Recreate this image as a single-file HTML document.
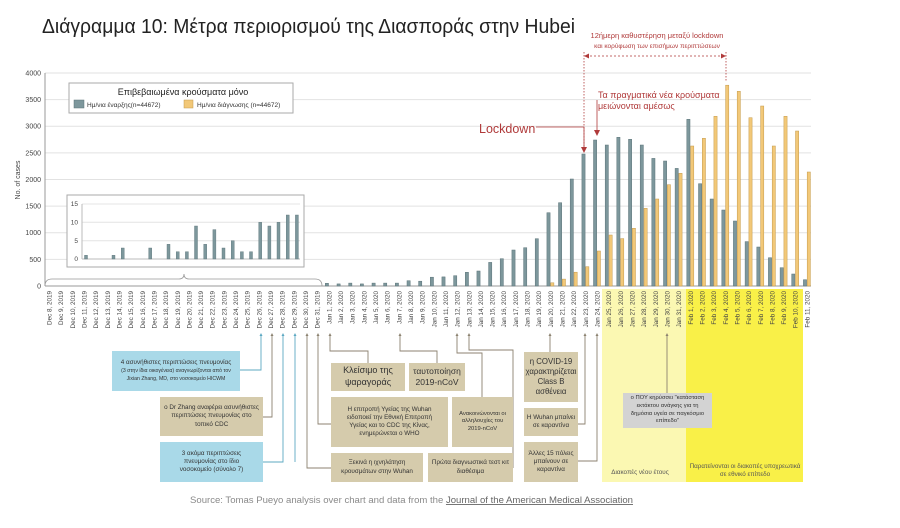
<!DOCTYPE html>
<html><head><meta charset="utf-8"><style>
html,body{margin:0;padding:0;background:#fff;}
#w{position:relative;width:900px;height:528px;overflow:hidden;font-family:"Liberation Sans","DejaVu Sans",sans-serif;}
.b{position:absolute;display:flex;align-items:center;justify-content:center;text-align:center;color:#333;font-size:6.3px;line-height:1.3;box-sizing:border-box;padding:2px;}
.t{background:#d5cbac;}
.c{background:#a9d9e8;}
svg text{font-family:"Liberation Sans","DejaVu Sans",sans-serif;}
</style></head><body><div id="w">
<svg width="900" height="528" style="position:absolute;left:0;top:0">
<rect x="602" y="289" width="84" height="193" fill="#fbf8b2"/>
<rect x="686" y="289" width="117" height="193" fill="#f9f048"/>
<text x="42" y="33" font-size="20" fill="#222" textLength="533" lengthAdjust="spacingAndGlyphs">Διάγραμμα 10: Μέτρα περιορισμού της Διασποράς στην Hubei</text>
<g stroke="#e2e2e2" stroke-width="1">
<line x1="45" x2="811" y1="259.4" y2="259.4"/><line x1="45" x2="811" y1="232.75" y2="232.75"/><line x1="45" x2="811" y1="206.1" y2="206.1"/><line x1="45" x2="811" y1="179.5" y2="179.5"/><line x1="45" x2="811" y1="152.9" y2="152.9"/><line x1="45" x2="811" y1="126.25" y2="126.25"/><line x1="45" x2="811" y1="99.6" y2="99.6"/><line x1="45" x2="811" y1="73" y2="73"/>
</g>
<line x1="45" x2="811" y1="286" y2="286" stroke="#999"/>
<line x1="45" x2="45" y1="73" y2="286" stroke="#999"/>
<g font-size="7" fill="#444" text-anchor="end">
<text x="41" y="288.5">0</text><text x="41" y="261.9">500</text><text x="41" y="235.2">1000</text><text x="41" y="208.6">1500</text><text x="41" y="182">2000</text><text x="41" y="155.4">2500</text><text x="41" y="128.7">3000</text><text x="41" y="102.1">3500</text><text x="41" y="75.5">4000</text>
</g>
<text transform="translate(20,180) rotate(-90)" font-size="7" fill="#444" text-anchor="middle">No. of cases</text>
<g fill="#7d979c" stroke="#5b7379" stroke-width="0.5">
<rect x="325.3" y="283.3" width="3.2" height="2.7"/><rect x="337" y="283.9" width="3.2" height="2.1"/><rect x="348.7" y="283.1" width="3.2" height="2.9"/><rect x="360.3" y="283.9" width="3.2" height="2.1"/><rect x="372" y="283.1" width="3.2" height="2.9"/><rect x="383.6" y="283.1" width="3.2" height="2.9"/><rect x="395.3" y="283.1" width="3.2" height="2.9"/><rect x="407" y="280.7" width="3.2" height="5.3"/><rect x="418.6" y="281.2" width="3.2" height="4.8"/><rect x="430.3" y="277.2" width="3.2" height="8.8"/><rect x="441.9" y="276.9" width="3.2" height="9.1"/><rect x="453.6" y="275.7" width="3.2" height="10.3"/><rect x="465.3" y="272.3" width="3.2" height="13.7"/><rect x="476.9" y="271" width="3.2" height="15"/><rect x="488.6" y="262.4" width="3.2" height="23.6"/><rect x="500.2" y="258.7" width="3.2" height="27.3"/><rect x="511.9" y="250" width="3.2" height="36"/><rect x="523.6" y="247.7" width="3.2" height="38.3"/><rect x="535.2" y="238.7" width="3.2" height="47.3"/><rect x="546.9" y="212.7" width="3.2" height="73.3"/><rect x="558.5" y="202.7" width="3.2" height="83.3"/><rect x="570.2" y="179" width="3.2" height="107"/><rect x="581.9" y="154" width="3.2" height="132"/><rect x="593.5" y="140" width="3.2" height="146"/><rect x="605.2" y="145" width="3.2" height="141"/><rect x="616.8" y="137.3" width="3.2" height="148.7"/><rect x="628.5" y="139.3" width="3.2" height="146.7"/><rect x="640.2" y="145" width="3.2" height="141"/><rect x="651.8" y="158.4" width="3.2" height="127.6"/><rect x="663.5" y="161" width="3.2" height="125"/><rect x="675.1" y="168.4" width="3.2" height="117.6"/><rect x="686.8" y="119.3" width="3.2" height="166.7"/><rect x="698.5" y="183.7" width="3.2" height="102.3"/><rect x="710.1" y="199" width="3.2" height="87"/><rect x="721.8" y="210" width="3.2" height="76"/><rect x="733.4" y="221" width="3.2" height="65"/><rect x="745.1" y="241.6" width="3.2" height="44.4"/><rect x="756.8" y="247" width="3.2" height="39"/><rect x="768.4" y="257.7" width="3.2" height="28.3"/><rect x="780.1" y="267.7" width="3.2" height="18.3"/><rect x="791.7" y="274" width="3.2" height="12"/><rect x="803.4" y="279.7" width="3.2" height="6.3"/>
</g>
<g fill="#f2c878" stroke="#c49a4c" stroke-width="0.5">
<rect x="550.7" y="282.8" width="3.2" height="3.2"/><rect x="562.3" y="279.1" width="3.2" height="6.9"/><rect x="574" y="272.2" width="3.2" height="13.8"/><rect x="585.7" y="266.7" width="3.2" height="19.3"/><rect x="597.3" y="251" width="3.2" height="35"/><rect x="609" y="235" width="3.2" height="51"/><rect x="620.6" y="238.6" width="3.2" height="47.4"/><rect x="632.3" y="228.3" width="3.2" height="57.7"/><rect x="644" y="208.3" width="3.2" height="77.7"/><rect x="655.6" y="199" width="3.2" height="87"/><rect x="667.3" y="184.7" width="3.2" height="101.3"/><rect x="678.9" y="173.3" width="3.2" height="112.7"/><rect x="690.6" y="146" width="3.2" height="140"/><rect x="702.3" y="138.3" width="3.2" height="147.7"/><rect x="713.9" y="116.3" width="3.2" height="169.7"/><rect x="725.6" y="85.2" width="3.2" height="200.8"/><rect x="737.2" y="91.3" width="3.2" height="194.7"/><rect x="748.9" y="117.7" width="3.2" height="168.3"/><rect x="760.6" y="106" width="3.2" height="180"/><rect x="772.2" y="146" width="3.2" height="140"/><rect x="783.9" y="116.3" width="3.2" height="169.7"/><rect x="795.5" y="131" width="3.2" height="155"/><rect x="807.2" y="172" width="3.2" height="114"/>
</g>
<rect x="69" y="83" width="224" height="30" fill="#fff" stroke="#aaa"/>
<text x="183" y="95" font-size="9" fill="#222" text-anchor="middle">Επιβεβαιωμένα κρούσματα μόνο</text>
<rect x="74" y="100" width="10" height="8" fill="#7d979c" stroke="#5b7379" stroke-width="0.5"/>
<text x="87" y="107" font-size="6.5" fill="#333">Ημ/νια έναρξης(n=44672)</text>
<rect x="184" y="100" width="9" height="8" fill="#f2c878" stroke="#c49a4c" stroke-width="0.5"/>
<text x="197" y="107" font-size="6.5" fill="#333">Ημ/νια διάγνωσης (n=44672)</text>
<rect x="67" y="195" width="237" height="72" fill="#fff" stroke="#aaa"/>
<g stroke="#e4e4e4"><line x1="82" x2="300" y1="204" y2="204"/><line x1="82" x2="300" y1="222.3" y2="222.3"/><line x1="82" x2="300" y1="240.7" y2="240.7"/></g>
<line x1="82" x2="300" y1="259" y2="259" stroke="#bbb"/><line x1="82" x2="82" y1="204" y2="259" stroke="#bbb"/>
<g font-size="6.5" fill="#444" text-anchor="end"><text x="78" y="206">15</text><text x="78" y="224.5">10</text><text x="78" y="243">5</text><text x="78" y="261">0</text></g>
<g fill="#7d979c" stroke="#5b7379" stroke-width="0.4">
<rect x="84.5" y="255.3" width="3" height="3.7"/><rect x="112" y="255.3" width="3" height="3.7"/><rect x="121.2" y="248" width="3" height="11"/><rect x="148.7" y="248" width="3" height="11"/><rect x="167" y="244.3" width="3" height="14.7"/><rect x="176.2" y="251.7" width="3" height="7.3"/><rect x="185.4" y="251.7" width="3" height="7.3"/><rect x="194.5" y="226" width="3" height="33"/><rect x="203.7" y="244.3" width="3" height="14.7"/><rect x="212.9" y="229.6" width="3" height="29.4"/><rect x="222" y="248" width="3" height="11"/><rect x="231.2" y="240.7" width="3" height="18.3"/><rect x="240.4" y="251.7" width="3" height="7.3"/><rect x="249.5" y="251.7" width="3" height="7.3"/><rect x="258.7" y="222.3" width="3" height="36.7"/><rect x="267.9" y="226" width="3" height="33"/><rect x="277" y="222.3" width="3" height="36.7"/><rect x="286.2" y="215" width="3" height="44"/><rect x="295.4" y="215" width="3" height="44"/>
</g>
<path d="M45,286 Q45,279 52,279 L179,279 Q184,279 184,274 Q184,279 189,279 L315,279 Q322,279 322,286" fill="none" stroke="#999" stroke-width="0.8"/>
<g font-size="6.3" fill="#444" text-anchor="end">
<text transform="translate(51.5,291) rotate(-90)">Dec 8, 2019</text>
<text transform="translate(63.2,291) rotate(-90)">Dec 9, 2019</text>
<text transform="translate(74.8,291) rotate(-90)">Dec 10, 2019</text>
<text transform="translate(86.5,291) rotate(-90)">Dec 11, 2019</text>
<text transform="translate(98.1,291) rotate(-90)">Dec 12, 2019</text>
<text transform="translate(109.8,291) rotate(-90)">Dec 13, 2019</text>
<text transform="translate(121.5,291) rotate(-90)">Dec 14, 2019</text>
<text transform="translate(133.1,291) rotate(-90)">Dec 15, 2019</text>
<text transform="translate(144.8,291) rotate(-90)">Dec 16, 2019</text>
<text transform="translate(156.4,291) rotate(-90)">Dec 17, 2019</text>
<text transform="translate(168.1,291) rotate(-90)">Dec 18, 2019</text>
<text transform="translate(179.8,291) rotate(-90)">Dec 19, 2019</text>
<text transform="translate(191.4,291) rotate(-90)">Dec 20, 2019</text>
<text transform="translate(203.1,291) rotate(-90)">Dec 21, 2019</text>
<text transform="translate(214.7,291) rotate(-90)">Dec 22, 2019</text>
<text transform="translate(226.4,291) rotate(-90)">Dec 23, 2019</text>
<text transform="translate(238.1,291) rotate(-90)">Dec 24, 2019</text>
<text transform="translate(249.7,291) rotate(-90)">Dec 25, 2019</text>
<text transform="translate(261.4,291) rotate(-90)">Dec 26, 2019</text>
<text transform="translate(273,291) rotate(-90)">Dec 27, 2019</text>
<text transform="translate(284.7,291) rotate(-90)">Dec 28, 2019</text>
<text transform="translate(296.4,291) rotate(-90)">Dec 29, 2019</text>
<text transform="translate(308,291) rotate(-90)">Dec 30, 2019</text>
<text transform="translate(319.7,291) rotate(-90)">Dec 31, 2019</text>
<text transform="translate(331.3,291) rotate(-90)">Jan 1, 2020</text>
<text transform="translate(343,291) rotate(-90)">Jan 2, 2020</text>
<text transform="translate(354.7,291) rotate(-90)">Jan 3, 2020</text>
<text transform="translate(366.3,291) rotate(-90)">Jan 4, 2020</text>
<text transform="translate(378,291) rotate(-90)">Jan 5, 2020</text>
<text transform="translate(389.6,291) rotate(-90)">Jan 6, 2020</text>
<text transform="translate(401.3,291) rotate(-90)">Jan 7, 2020</text>
<text transform="translate(413,291) rotate(-90)">Jan 8, 2020</text>
<text transform="translate(424.6,291) rotate(-90)">Jan 9, 2020</text>
<text transform="translate(436.3,291) rotate(-90)">Jan 10, 2020</text>
<text transform="translate(447.9,291) rotate(-90)">Jan 11, 2020</text>
<text transform="translate(459.6,291) rotate(-90)">Jan 12, 2020</text>
<text transform="translate(471.3,291) rotate(-90)">Jan 13, 2020</text>
<text transform="translate(482.9,291) rotate(-90)">Jan 14, 2020</text>
<text transform="translate(494.6,291) rotate(-90)">Jan 15, 2020</text>
<text transform="translate(506.2,291) rotate(-90)">Jan 16, 2020</text>
<text transform="translate(517.9,291) rotate(-90)">Jan 17, 2020</text>
<text transform="translate(529.6,291) rotate(-90)">Jan 18, 2020</text>
<text transform="translate(541.2,291) rotate(-90)">Jan 19, 2020</text>
<text transform="translate(552.9,291) rotate(-90)">Jan 20, 2020</text>
<text transform="translate(564.5,291) rotate(-90)">Jan 21, 2020</text>
<text transform="translate(576.2,291) rotate(-90)">Jan 22, 2020</text>
<text transform="translate(587.9,291) rotate(-90)">Jan 23, 2020</text>
<text transform="translate(599.5,291) rotate(-90)">Jan 24, 2020</text>
<text transform="translate(611.2,291) rotate(-90)">Jan 25, 2020</text>
<text transform="translate(622.8,291) rotate(-90)">Jan 26, 2020</text>
<text transform="translate(634.5,291) rotate(-90)">Jan 27, 2020</text>
<text transform="translate(646.2,291) rotate(-90)">Jan 28, 2020</text>
<text transform="translate(657.8,291) rotate(-90)">Jan 29, 2020</text>
<text transform="translate(669.5,291) rotate(-90)">Jan 30, 2020</text>
<text transform="translate(681.1,291) rotate(-90)">Jan 31, 2020</text>
<text transform="translate(692.8,291) rotate(-90)">Feb 1, 2020</text>
<text transform="translate(704.5,291) rotate(-90)">Feb 2, 2020</text>
<text transform="translate(716.1,291) rotate(-90)">Feb 3, 2020</text>
<text transform="translate(727.8,291) rotate(-90)">Feb 4, 2020</text>
<text transform="translate(739.4,291) rotate(-90)">Feb 5, 2020</text>
<text transform="translate(751.1,291) rotate(-90)">Feb 6, 2020</text>
<text transform="translate(762.8,291) rotate(-90)">Feb 7, 2020</text>
<text transform="translate(774.4,291) rotate(-90)">Feb 8, 2020</text>
<text transform="translate(786.1,291) rotate(-90)">Feb 9, 2020</text>
<text transform="translate(797.7,291) rotate(-90)">Feb 10, 2020</text>
<text transform="translate(809.4,291) rotate(-90)">Feb 11, 2020</text>
</g>
<g fill="#b03a3a">
<text x="657" y="38" font-size="7.5" text-anchor="middle">12ήμερη καθυστέρηση μεταξύ lockdown</text>
<text x="657" y="48" font-size="6.5" text-anchor="middle">και κορύφωση των επισήμων περιπτώσεων</text>
<text x="479" y="133" font-size="12.5">Lockdown</text>
<text x="598" y="98" font-size="9">Τα πραγματικά νέα κρούσματα</text>
<text x="598" y="109" font-size="9">μειώνονται αμέσως</text>
</g>
<g stroke="#b03a3a" stroke-width="0.8" fill="none">
<line x1="586" y1="56" x2="724" y2="56" stroke-dasharray="2,2"/>
<line x1="584" y1="52" x2="584" y2="148" stroke-dasharray="1.5,1.5"/>
<line x1="726" y1="52" x2="726" y2="82" stroke-dasharray="1.5,1.5"/>
<polyline points="536,127 584,127 584,148"/>
<line x1="597" y1="100" x2="597" y2="131"/>
</g>
<g fill="#b03a3a">
<path d="M584,56 l5,-2.5 v5z"/><path d="M726,56 l-5,-2.5 v5z"/>
<path d="M581,147 h6 l-3,6z"/><path d="M594,130 h6 l-3,6z"/>
</g>
<g fill="none" stroke-width="0.9">
<g stroke="#5ca8c2">
<polyline points="261,335 261,370 240,370"/>
<polyline points="283,335 283,462 263,462"/>
<polyline points="295,335 295,462"/>
</g>
<g stroke="#8c8270">
<polyline points="272,335 272,417 263,417"/>
<polyline points="307,335 307,468 331,468"/>
<polyline points="318,335 318,424 331,424"/>
<polyline points="330,335 330,351 368,351 368,363"/>
<polyline points="400,335 400,351 437,351 437,363"/>
<polyline points="457,335 457,353 482,353 482,397"/>
<polyline points="469,335 469,350 513,350 513,468"/>
<line x1="550" y1="335" x2="550" y2="352"/>
<polyline points="585,335 585,424 578,424"/>
<polyline points="597,335 597,461 578,461"/>
<line x1="667" y1="335" x2="667" y2="393"/>
</g>
</g>
<g fill="#5ca8c2"><path d="M259.5,336 h3 l-1.5,-3z"/><path d="M281.5,336 h3 l-1.5,-3z"/><path d="M293.5,336 h3 l-1.5,-3z"/></g>
<g fill="#8c8270"><path d="M270.5,336 h3 l-1.5,-3z"/><path d="M305.5,336 h3 l-1.5,-3z"/><path d="M316.5,336 h3 l-1.5,-3z"/><path d="M328.5,336 h3 l-1.5,-3z"/><path d="M398.5,336 h3 l-1.5,-3z"/><path d="M455.5,336 h3 l-1.5,-3z"/><path d="M467.5,336 h3 l-1.5,-3z"/><path d="M548.5,336 h3 l-1.5,-3z"/><path d="M583.5,336 h3 l-1.5,-3z"/><path d="M595.5,336 h3 l-1.5,-3z"/><path d="M665.5,336 h3 l-1.5,-3z"/></g>
<text x="640" y="474" font-size="6.3" fill="#555" text-anchor="middle">Διακοπές νέου έτους</text>
<text x="745" y="468" font-size="6.3" fill="#555" text-anchor="middle">Παρατείνονται οι διακοπές υποχρεωτικά</text>
<text x="745" y="476" font-size="6.3" fill="#555" text-anchor="middle">σε εθνικό επίπεδο</text>
<text x="190" y="503" font-size="9" fill="#8a8a8a" textLength="443" lengthAdjust="spacingAndGlyphs">Source: Tomas Pueyo analysis over chart and data from the <tspan fill="#666" text-decoration="underline">Journal of the American Medical Association</tspan></text>
</svg>
<div class="b c" style="left:112px;top:351px;width:128px;height:40px;"><div>4 ασυνήθιστες περιπτώσεις πνευμονίας<br><span style="font-size:5.2px">(3 στην ίδια οικογένεια) αναγνωρίζονται από τον<br>Jixian Zhang, MD, στο νοσοκομείο HICWM</span></div></div>
<div class="b t" style="left:160px;top:397px;width:103px;height:39px;">ο Dr Zhang αναφέρει ασυνήθιστες περιπτώσεις πνευμονίας στο τοπικό CDC</div>
<div class="b c" style="left:160px;top:442px;width:103px;height:40px;padding:2px 18px;">3 ακόμα περιπτώσεις πνευμονίας στο ίδιο νοσοκομείο (σύνολο 7)</div>
<div class="b t" style="left:331px;top:363px;width:74px;height:28px;font-size:9px;">Κλείσιμο της<br>ψαραγοράς</div>
<div class="b t" style="left:409px;top:363px;width:56px;height:28px;font-size:8.5px;">ταυτοποίηση<br>2019-nCoV</div>
<div class="b t" style="left:331px;top:397px;width:117px;height:50px;padding:2px 12px;">Η επιτροπή Υγείας της Wuhan ειδοποιεί την Εθνική Επιτροπή Υγείας και το CDC της Κίνας, ενημερώνεται ο WHO</div>
<div class="b t" style="left:452px;top:397px;width:61px;height:50px;font-size:5.8px;">Ανακοινώνονται οι αλληλουχίες του 2019-nCoV</div>
<div class="b t" style="left:331px;top:453px;width:92px;height:29px;padding:2px 10px;">Ξεκινά η ιχνηλάτηση κρουσμάτων στην Wuhan</div>
<div class="b t" style="left:428px;top:453px;width:85px;height:29px;">Πρώτα διαγνωστικά τεστ κιτ διαθέσιμα</div>
<div class="b t" style="left:524px;top:352px;width:54px;height:50px;font-size:7.8px;">η COVID-19 χαρακτηρίζεται Class B ασθένεια</div>
<div class="b t" style="left:524px;top:408px;width:54px;height:28px;">Η Wuhan μπαίνει σε καραντίνα</div>
<div class="b t" style="left:524px;top:442px;width:54px;height:40px;">Άλλες 15 πόλεις μπαίνουν σε καραντίνα</div>
<div class="b" style="left:623px;top:393px;width:89px;height:35px;background:#d3d3d3;font-size:5.8px;padding:2px 6px;">ο ΠΟΥ κηρύσσει "κατάσταση εκτάκτου ανάγκης για τη δημόσια υγεία σε παγκόσμιο επίπεδο"</div>
</div></body></html>
